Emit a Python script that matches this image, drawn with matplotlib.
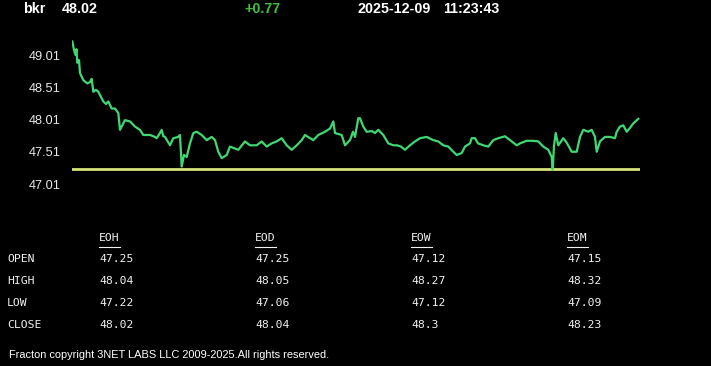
import matplotlib
matplotlib.use("Agg")
import matplotlib.pyplot as plt
from matplotlib.lines import Line2D

# ---------------- data ----------------
symbol = "bkr"
last_price = "48.02"
change = "+0.77"
date_str = "2025-12-09"
time_str = "11:23:43"
prev_close = 47.25

# intraday samples (time index, price)
t = [0.3, 2, 3.5, 4.5, 5.3, 7, 8, 11.3, 15.3, 18, 19.7, 21.3, 24, 26.3, 31.3, 34, 36.3,
     39.7, 43, 46.3, 48, 53, 58, 63, 68, 71.3, 78, 83, 84.7, 88, 89.7, 91.3, 93, 98,
     101.3, 106.3, 108, 109.7, 112, 114.7, 118, 121.3, 124.7, 129.7, 134.7, 139.7, 143,
     146.3, 149.7, 154.7, 158, 163, 166.3, 173, 178, 184.7, 189.7, 194.7, 199.7, 204.7,
     209.7, 214.7, 219.7, 224.7, 229.7, 233, 236, 241.3, 246.3, 253, 258, 261.3, 263,
     269.7, 273, 278, 281, 283, 286.3, 288, 291.3, 294.7, 300, 303, 306.3, 311.3, 316.3,
     321.3, 325, 329, 333, 338, 343, 348, 354.7, 361.3, 366.3, 371.3, 376.3, 381.3,
     384.7, 389.7, 393, 398, 399.7, 403, 406, 411.3, 416.3, 421.3, 426.3, 433, 438,
     444.7, 448, 454.7, 461, 466.3, 471.3, 476.3, 479.7, 480.7, 482, 483.7, 486.3, 491.3,
     494.7, 499.7, 504.7, 508, 511.3, 516.3, 519.7, 523, 524.7, 528, 533, 538, 543,
     544.7, 548, 551.3, 554.7, 558, 561.3, 566.3]
price = [49.22, 49.09, 49.01, 49.10, 48.89, 48.93, 48.73, 48.62, 48.57, 48.59, 48.64,
         48.44, 48.47, 48.44, 48.29, 48.25, 48.29, 48.18, 48.18, 48.11, 47.85, 48.00,
         47.98, 47.90, 47.85, 47.77, 47.77, 47.74, 47.72, 47.80, 47.85, 47.75, 47.74,
         47.61, 47.72, 47.74, 47.77, 47.28, 47.46, 47.43, 47.64, 47.80, 47.82, 47.77,
         47.69, 47.74, 47.69, 47.51, 47.41, 47.46, 47.59, 47.56, 47.54, 47.67, 47.61,
         47.61, 47.67, 47.59, 47.64, 47.67, 47.72, 47.61, 47.54, 47.61, 47.69, 47.77,
         47.74, 47.69, 47.77, 47.82, 47.87, 47.98, 47.80, 47.77, 47.61, 47.69, 47.82,
         47.74, 48.03, 48.03, 47.90, 47.82, 47.83, 47.80, 47.85, 47.77, 47.64, 47.61,
         47.61, 47.59, 47.54, 47.61, 47.67, 47.72, 47.74, 47.69, 47.67, 47.61, 47.59,
         47.51, 47.46, 47.49, 47.59, 47.64, 47.72, 47.72, 47.64, 47.61, 47.59, 47.69,
         47.72, 47.75, 47.69, 47.61, 47.64, 47.68, 47.68, 47.67, 47.59, 47.54, 47.43,
         47.23, 47.60, 47.80, 47.61, 47.72, 47.65, 47.51, 47.51, 47.74, 47.85, 47.82,
         47.85, 47.74, 47.51, 47.67, 47.74, 47.74, 47.72, 47.82, 47.90, 47.92, 47.82,
         47.88, 47.95, 48.02]

y_ticks = [47.01, 47.51, 48.01, 48.51, 49.01]

row_labels = ["OPEN", "HIGH", "LOW", "CLOSE"]
col_labels = ["EOH", "EOD", "EOW", "EOM"]
table_values = [
    ["47.25", "47.25", "47.12", "47.15"],
    ["48.04", "48.05", "48.27", "48.32"],
    ["47.22", "47.06", "47.12", "47.09"],
    ["48.02", "48.04", "48.3", "48.23"],
]
footer = "Fracton copyright 3NET LABS LLC 2009-2025.All rights reserved."

# ---------------- figure ----------------
W, H = 711, 366
fig = plt.figure(figsize=(W / 100, H / 100), dpi=100, facecolor="black")

def fx(px):
    return px / W

def fy(py):
    return 1 - py / H

ax_left, ax_right, ax_top, ax_bot = 72, 640, 35, 200
ax = fig.add_axes([fx(ax_left), fy(ax_bot), (ax_right - ax_left) / W, (ax_bot - ax_top) / H])
ax.set_facecolor("black")
for s in ax.spines.values():
    s.set_visible(False)

px_per_unit = 64.5
y_at_47 = 184
ax.set_ylim(47.01 - (ax_bot - y_at_47) / px_per_unit, 47.01 + (y_at_47 - ax_top) / px_per_unit)
ax.set_xlim(0, ax_right - ax_left)

ax.axhline(prev_close, color="#d6e27a", lw=2.0, zorder=2)
ax.plot(t, price, color="#3fd872", lw=1.6, zorder=3, solid_joinstyle="round")

ax.set_xticks([])
ax.set_yticks(y_ticks)
ax.set_yticklabels([f"{v:.2f}" for v in y_ticks], fontfamily="Liberation Sans",
                   fontsize=9.2, color="#e8e8e8")
ax.tick_params(axis="y", length=0, pad=8.5)

# header
hdr = dict(fontfamily="Liberation Sans", fontweight="bold", fontsize=10.3, va="center", ha="left")
fig.text(fx(23), fy(9), symbol, color="white", **hdr)
fig.text(fx(62), fy(9), last_price, color="white", **hdr)
fig.text(fx(244), fy(9), change, color="#3fbf3f", **hdr)
fig.text(fx(358), fy(9), date_str, color="white", **hdr)
fig.text(fx(443), fy(9), time_str, color="white", **hdr)

# table
mono = dict(fontfamily="DejaVu Sans Mono", fontsize=8.2, color="#f2f2f2", va="center", ha="left")
col_x = [99, 255, 411, 567]
row_y = [259, 281, 303, 325]
head_y = 238
head_texts = []
for cx, lab in zip(col_x, col_labels):
    head_texts.append(fig.text(fx(cx), fy(head_y), lab, **mono))
for ry, lab in zip(row_y, row_labels):
    fig.text(fx(7), fy(ry), lab, **mono)
for ry, vals in zip(row_y, table_values):
    for cx, v in zip(col_x, vals):
        fig.text(fx(cx), fy(ry), v, **mono)

fig.text(fx(9), fy(355), footer, fontfamily="Liberation Sans", fontsize=7.95,
         color="white", va="center", ha="left")

# underlines for column headers
fig.canvas.draw()
renderer = fig.canvas.get_renderer()
inv = fig.transFigure.inverted()
for txt in head_texts:
    bb = txt.get_window_extent(renderer)
    (x0, y0), (x1, _) = inv.transform([[bb.x0, bb.y0], [bb.x1, bb.y0]])
    fig.add_artist(Line2D([x0, x1], [fy(246.5), fy(246.5)], transform=fig.transFigure,
                          color="#f2f2f2", lw=0.8))

fig.savefig("out.png", dpi=100, facecolor="black")
